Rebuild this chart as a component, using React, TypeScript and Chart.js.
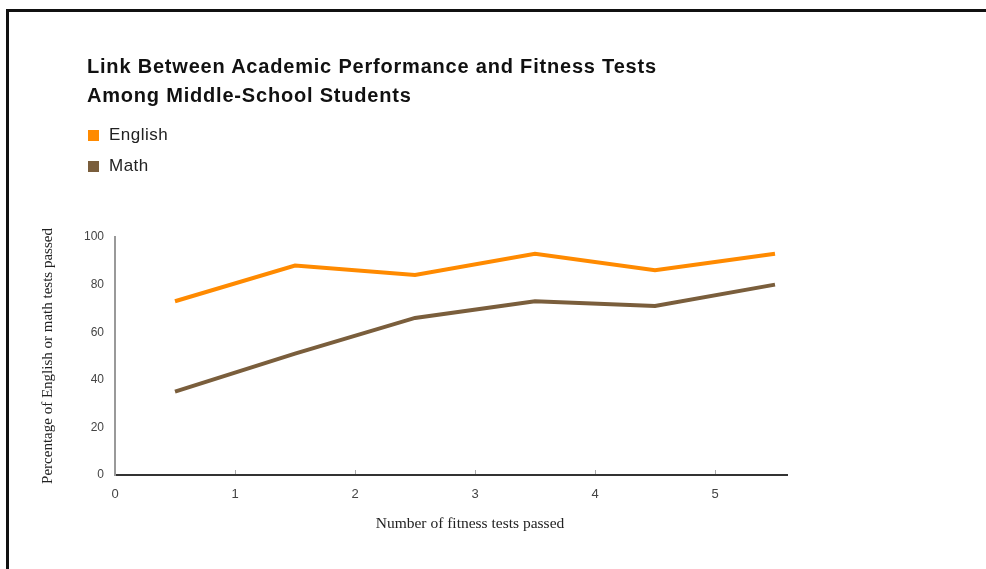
import React, { useEffect, useRef } from 'react';
import { Chart, registerables } from 'chart.js';

Chart.register(...registerables);

// ---- data ----
const fitnessTestsPassed = [0.5, 1.5, 2.5, 3.5, 4.5, 5.5];
const englishPct = [73, 88, 84, 93, 86, 93];
const mathPct = [35, 51, 66, 73, 71, 80];
const xTickValues = [0, 1, 2, 3, 4, 5];
const yTickValues = [0, 20, 40, 60, 80, 100];
const seriesNames = ['English', 'Math'];
const seriesColors = ['#ff8a00', '#7a5e3c'];
const titleLines = ['Link Between Academic Performance and Fitness Tests', 'Among Middle-School Students'];
const xAxisTitle = 'Number of fitness tests passed';
const yAxisTitle = 'Percentage of English or math tests passed';

const W = 986;
const H = 569;

export default function App() {
  const ref = useRef<HTMLCanvasElement | null>(null);

  useEffect(() => {
    if (!ref.current) return;
    const mk = (vals: number[]) => fitnessTestsPassed.map((x, i) => ({ x, y: vals[i] }));
    const chart = new Chart(ref.current, {
      type: 'line',
      data: {
        datasets: [
          {
            label: seriesNames[0],
            data: mk(englishPct),
            borderColor: seriesColors[0],
            backgroundColor: seriesColors[0],
            borderWidth: 4,
            pointRadius: 0,
            tension: 0,
            fill: false,
          },
          {
            label: seriesNames[1],
            data: mk(mathPct),
            borderColor: seriesColors[1],
            backgroundColor: seriesColors[1],
            borderWidth: 4,
            pointRadius: 0,
            tension: 0,
            fill: false,
          },
        ],
      },
      options: {
        responsive: false,
        animation: false,
        devicePixelRatio: 1,
        layout: { padding: { left: 39, top: 237, right: W - 787, bottom: 0 } },
        plugins: {
          legend: { display: false },
          title: { display: false },
          tooltip: { enabled: false },
        },
        scales: {
          x: {
            type: 'linear',
            min: 0,
            max: 5.6,
            afterBuildTicks: (s: any) => {
              s.ticks = xTickValues.map((v) => ({ value: v }));
            },
            afterFit: (s: any) => {
              s.height = H - 475;
            },
            ticks: {
              padding: 17,
              color: '#444',
              font: { family: "'Liberation Sans', Arial, sans-serif", size: 13 },
              maxRotation: 0,
            },
            grid: { display: true, drawOnChartArea: false, drawTicks: true, tickLength: -5, color: '#aaa', lineWidth: 1 },
            border: { display: true, color: '#333', width: 2 },
          },
          y: {
            type: 'linear',
            min: 0,
            max: 100,
            afterBuildTicks: (s: any) => {
              s.ticks = yTickValues.map((v) => ({ value: v }));
            },
            afterFit: (s: any) => {
              s.width = 76;
            },
            ticks: {
              padding: 11,
              color: '#444',
              font: { family: "'Liberation Sans', Arial, sans-serif", size: 12 },
            },
            grid: { display: false, drawTicks: false },
            border: { display: true, color: '#999', width: 2 },
            title: {
              display: true,
              text: yAxisTitle,
              color: '#222',
              padding: 0,
              font: { family: "'Liberation Serif', 'Times New Roman', serif", size: 15 },
            },
          },
        },
      },
    });
    return () => chart.destroy();
  }, []);

  return (
    <div style={{ position: 'absolute', left: 0, top: 0, width: W, height: H, overflow: 'hidden', background: '#fff' }}>
      <div
        style={{
          position: 'absolute',
          left: 6,
          top: 9,
          width: W,
          height: H,
          borderTop: '3px solid #111',
          borderLeft: '3px solid #111',
          boxSizing: 'border-box',
        }}
      />
      <canvas ref={ref} width={W} height={H} style={{ position: 'absolute', left: 0, top: 0, display: 'block' }} />
      <div
        style={{
          position: 'absolute',
          left: 87,
          top: 52,
          fontFamily: "'Liberation Sans', Arial, sans-serif",
          fontWeight: 'bold',
          fontSize: 20,
          lineHeight: '29px',
          color: '#111',
          letterSpacing: 0.8,
          whiteSpace: 'nowrap',
        }}
      >
        {titleLines.map((t) => (
          <div key={t}>{t}</div>
        ))}
      </div>
      {seriesNames.map((name, i) => (
        <div
          key={name}
          style={{
            position: 'absolute',
            left: 88,
            top: 124 + i * 31,
            height: 22,
            display: 'flex',
            alignItems: 'center',
            fontFamily: "'Liberation Sans', Arial, sans-serif",
            fontSize: 17,
            color: '#222',
            letterSpacing: 0.5,
            whiteSpace: 'nowrap',
          }}
        >
          <span style={{ display: 'inline-block', width: 11, height: 11, background: seriesColors[i], marginRight: 10 }} />
          {name}
        </div>
      ))}
      <div
        style={{
          position: 'absolute',
          left: 470,
          top: 514,
          transform: 'translateX(-50%)',
          fontFamily: "'Liberation Serif', 'Times New Roman', serif",
          fontSize: 15.5,
          color: '#222',
          whiteSpace: 'nowrap',
        }}
      >
        {xAxisTitle}
      </div>
    </div>
  );
}
